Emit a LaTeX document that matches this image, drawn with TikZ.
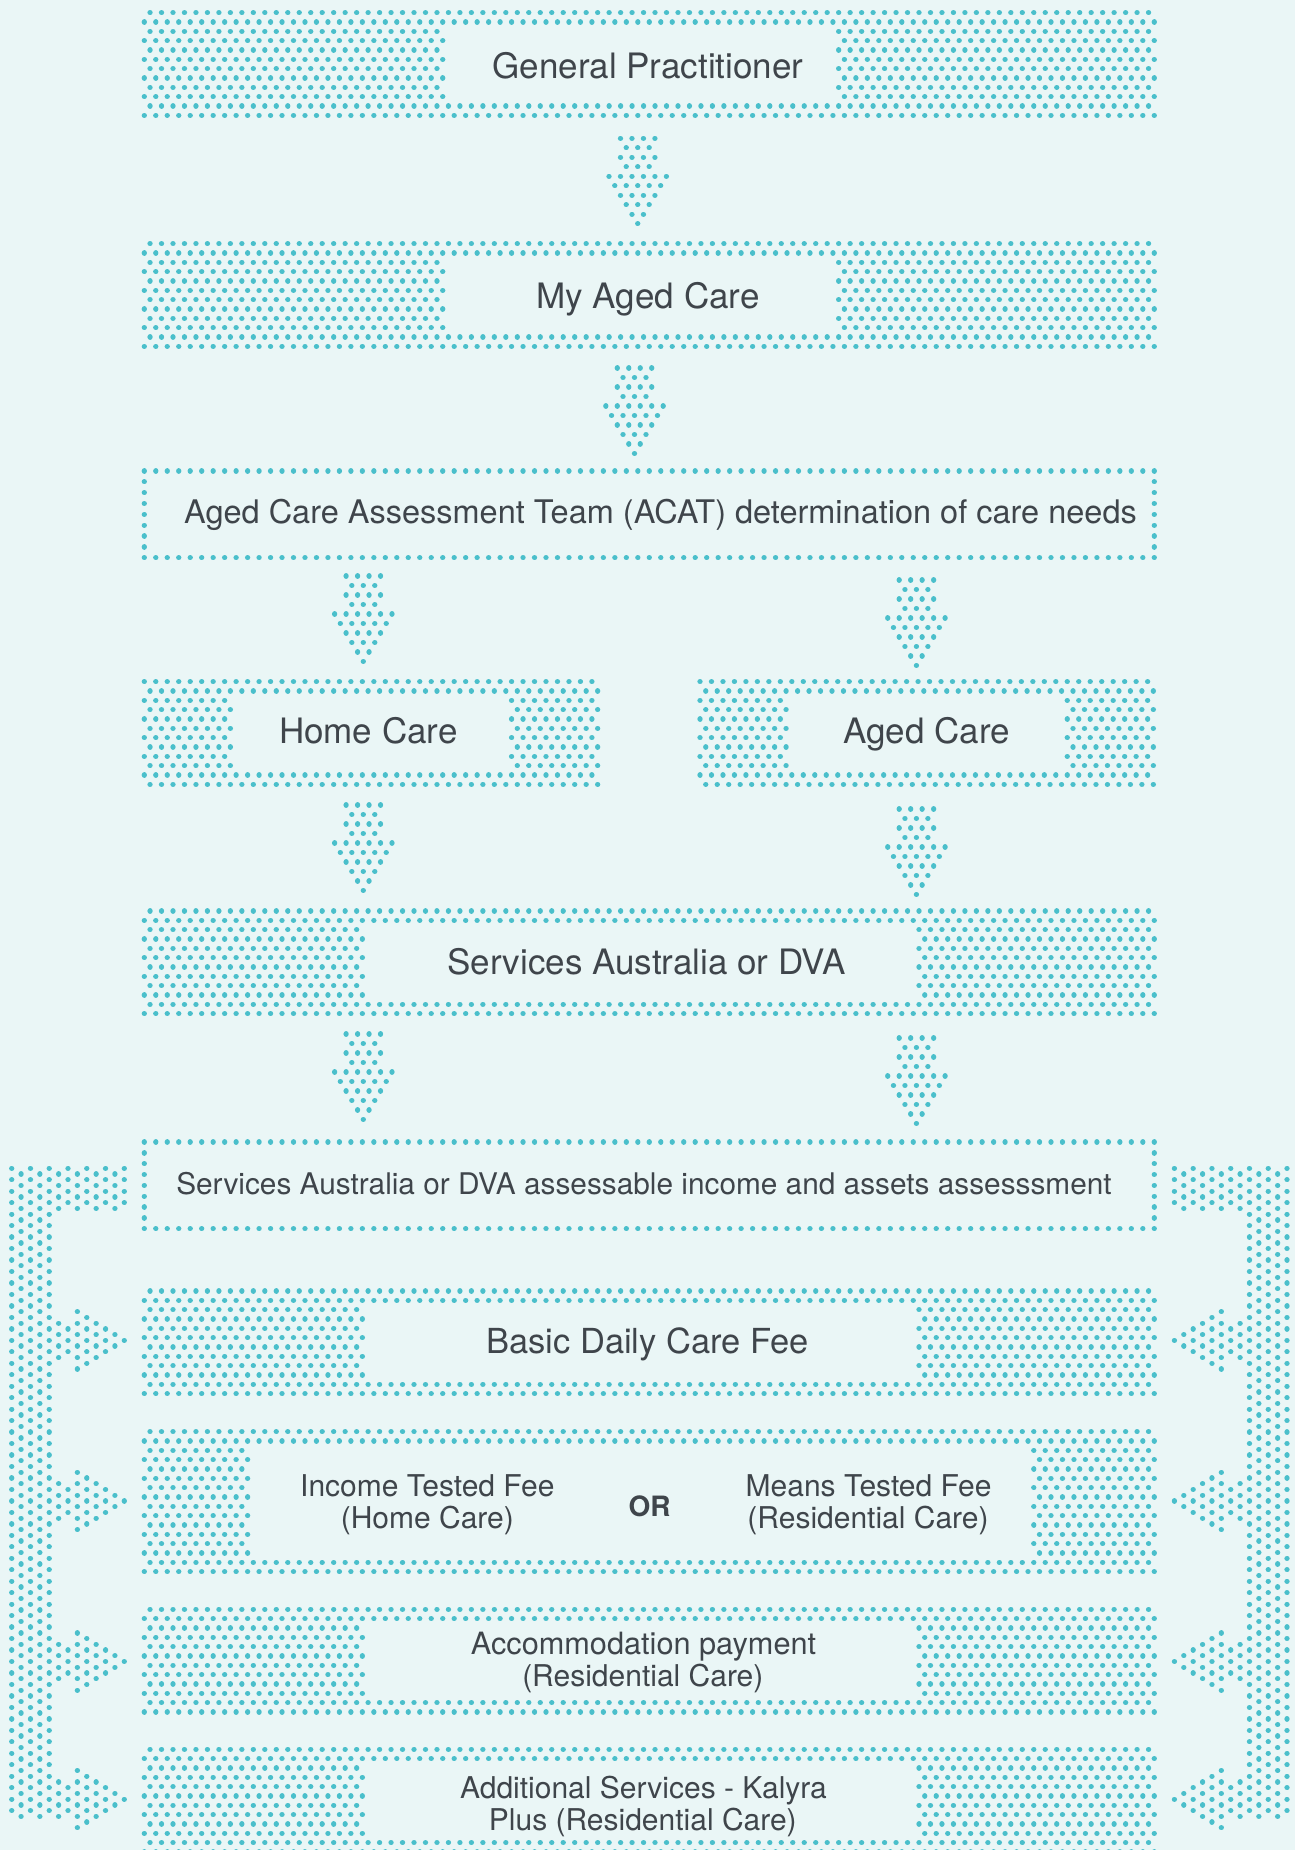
\documentclass[tikz,border=0pt]{standalone}
\usepackage{fontspec}
\setmainfont{TeX Gyre Heros}
\definecolor{bgc}{HTML}{EAF6F6}
\definecolor{dotc}{HTML}{4ABFCB}
\definecolor{txtc}{HTML}{3F454B}
\tikzset{
  dotst/.style={draw=dotc, line width=5.3pt, line cap=round},
  title/.style={text=txtc, inner sep=0pt, anchor=base, font=\fontsize{35}{40}\selectfont},
  mid/.style={text=txtc, inner sep=0pt, anchor=base, font=\fontsize{32.5}{38}\selectfont},
  small/.style={text=txtc, inner sep=0pt, anchor=base, font=\fontsize{30}{34}\selectfont},
}
% one row of a dotted box: #1 y, #2 m start, #3 m end, #4 x0
\newcommand\dotrow[4]{%
  \pgfmathtruncatemacro\dA{#2}%
  \pgfmathtruncatemacro\dB{#2+2}%
  \pgfmathtruncatemacro\dE{#3}%
  \draw[dotst] foreach \mm in {\dA,\dB,...,\dE}{(#4+5.7385*\mm,#1) -- ++(0.01,0)};%
}
% dotted frame box: #1 x0, #2 y0, #3 rows, #4 parity row0, #5 mmax, #6 L, #7 R
\newcommand\dotbox[7]{%
  \pgfmathtruncatemacro\Nm{#3-1}%
  \foreach \r in {0,...,\Nm}{%
    \pgfmathsetmacro\yy{#2+9.3333*\r}%
    \pgfmathtruncatemacro\ps{mod(\r+#4,2)}%
    \pgfmathtruncatemacro\isb{or(\r<2,\r>\Nm-2)}%
    \ifnum\isb=1
      \dotrow{\yy}{\ps}{#5}{#1}%
    \else
      \dotrow{\yy}{\ps}{#6}{#1}%
      \pgfmathtruncatemacro\rs{#7+mod(#7+\ps,2)}%
      \dotrow{\yy}{\rs}{#5}{#1}%
    \fi
  }%
}
% single-line dotted outline: #1 top y, #2 bottom y
\newcommand\dashframe[2]{%
  \draw[dotst] foreach \k in {0,...,88}{(144.3+11.477*\k,#1) -- ++(0.01,0) (144.3+11.477*\k,#2) -- ++(0.01,0)};%
  \draw[dotst] foreach \q in {1,...,7}{(144.3,{#1+(#2-#1)/8*\q}) -- ++(0.01,0) (1154.3,{#1+(#2-#1)/8*\q}) -- ++(0.01,0)};%
}
% down arrow rows
\newcommand\darow[3]{\draw[dotst] foreach \h in {#3}{(#1+5.7385*\h,#2) -- ++(0.01,0)};}
\newcommand\darrow[2]{%
  \darow{#1}{#2}{-3,-1,1,3}%
  \darow{#1}{#2+9.49}{-2,0,2}%
  \darow{#1}{#2+2*9.49}{-3,-1,1,3}%
  \darow{#1}{#2+3*9.49}{-2,0,2}%
  \darow{#1}{#2+4*9.49}{-5,-3,-1,1,3,5}%
  \darow{#1}{#2+5*9.49}{-4,-2,0,2,4}%
  \darow{#1}{#2+6*9.49}{-3,-1,1,3}%
  \darow{#1}{#2+7*9.49}{-2,0,2}%
  \darow{#1}{#2+8*9.49}{-1,1}%
  \darow{#1}{#2+9*9.49}{0}%
}
% bracket column: #1 j, #2 i start, #3 i end
\newcommand\bcol[3]{%
  \pgfmathtruncatemacro\ia{#2}\pgfmathtruncatemacro\ib{#3}%
  \pgfmathtruncatemacro\jj{#1}%
  \pgfmathtruncatemacro\jp{mod(\jj,2)}%
  \pgfmathsetmacro\cx{\bx+\bs*9.383*\jj}%
  \draw[dotst] foreach \ii in {\ia,...,\ib}{(\cx,{1168.3+5.735*\jp+11.47*\ii}) -- ++(0.01,0)};%
}
\newcommand\sidearrow[1]{%
  \bcol{5}{#1-2}{#1+1}\bcol{6}{#1-1}{#1+1}\bcol{7}{#1-3}{#1+2}\bcol{8}{#1-2}{#1+2}%
  \bcol{9}{#1-2}{#1+1}\bcol{10}{#1-1}{#1+1}\bcol{11}{#1-1}{#1}\bcol{12}{#1}{#1}%
}
\newcommand\bracket{%
  \foreach \j in {0,...,4}{\bcol{\j}{0}{56}}%
  \foreach \j in {5,...,12}{\bcol{\j}{0}{3}}%
  \foreach \t in {15,29,43,55}{\sidearrow{\t}}%
}
\begin{document}
\begin{tikzpicture}[x=1pt,y=-1pt]
\fill[bgc] (0,0) rectangle (1295,1850);
\useasboundingbox (0,0) rectangle (1295,1850);
\clip (0,0) rectangle (1295,1850);
% boxes
\dotbox{144.3}{12.7}{12}{1}{176}{52}{121}
\dotbox{144.3}{243.7}{12}{1}{176}{52}{121}
\dashframe{471}{557.7}
\dotbox{144.3}{681.7}{12}{0}{79}{15}{64}
\dotbox{700}{681.7}{12}{0}{79}{15}{64}
\dotbox{144.3}{911}{12}{1}{176}{38}{135}
\dashframe{1142}{1228.7}
\dotbox{144.3}{1291}{12}{1}{176}{38}{135}
\dotbox{144.3}{1431.7}{16}{1}{176}{18}{155}
\dotbox{144.3}{1609.3}{12}{1}{176}{38}{135}
\dotbox{144.3}{1749.3}{12}{1}{176}{38}{135}
% down arrows
\darrow{637.7}{138.3}
\darrow{634.5}{368}
\darrow{363.3}{576}
\darrow{916.4}{580}
\darrow{363.3}{805}
\darrow{916.4}{809}
\darrow{363.3}{1034}
\darrow{916.4}{1038}
% brackets
\def\bx{11.7}\def\bs{1}\bracket
\def\bx{1287}\def\bs{-1}\bracket
% texts
\node[title] (gp) at (648,78) {General Practitioner};
\node[title] (mac) at (648,308) {My Aged Care};
\node[mid] (acat) at (660.5,523.3) {Aged Care Assessment Team (ACAT) determination of care needs};
\node[title] (home) at (368.3,743.3) {Home Care};
\node[title] (aged) at (926.7,743.3) {Aged Care};
\node[title] (sa) at (646.7,974) {Services Australia or DVA};
\node[small, font=\fontsize{29.8}{34}\selectfont] (assess) at (644,1194) {Services Australia or DVA assessable income and assets assesssment};
\node[title, font=\fontsize{34.5}{40}\selectfont] (basic) at (647.5,1353) {Basic Daily Care Fee};
\node[small] (inc1) at (427.3,1496) {Income Tested Fee};
\node[small] (inc2) at (427.3,1528.3) {(Home Care)};
\node[small, font=\fontsize{28}{34}\selectfont\bfseries] (or) at (649.6,1516.5) {OR};
\node[small] (means1) at (868.6,1496) {Means Tested Fee};
\node[small] (means2) at (868,1528.3) {(Residential Care)};
\node[small, font=\fontsize{30.7}{34}\selectfont] (acc1) at (643.5,1654) {Accommodation payment};
\node[small] (acc2) at (642.8,1686) {(Residential Care)};
\node[small] (add1) at (643.5,1798) {Additional Services - Kalyra};
\node[small] (add2) at (642.8,1830) {Plus (Residential Care)};
\end{tikzpicture}
\end{document}
